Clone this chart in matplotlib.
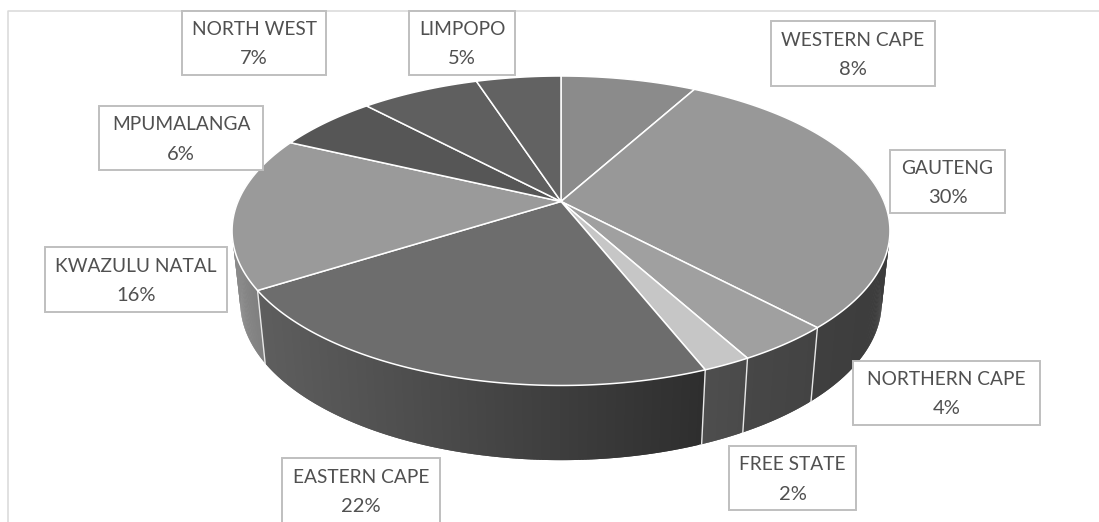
import numpy as np
import matplotlib
matplotlib.use('Agg')
import matplotlib.pyplot as plt
from matplotlib.patches import Rectangle
from matplotlib.colors import to_rgb

# Data, clockwise from 12 o'clock
provinces = ['WESTERN CAPE', 'GAUTENG', 'NORTHERN CAPE', 'FREE STATE', 'EASTERN CAPE',
             'KWAZULU NATAL', 'MPUMALANGA', 'NORTH WEST', 'LIMPOPO']
shares = [8, 30, 4, 2, 22, 16, 6, 7, 5]

top_colors = ['#8b8b8b', '#989898', '#a0a0a0', '#c6c6c6', '#6d6d6d',
              '#9a9a9a', '#565656', '#5f5f5f', '#626262']
# side wall colours, (left end, right end) of each slice
side_colors = [('#444444', '#444444'), ('#454545', '#3c3c3c'), ('#474747', '#434343'),
               ('#4e4e4e', '#4a4a4a'), ('#5e5e5e', '#2e2e2e'), ('#8a8a8a', '#727272'),
               ('#707070', '#707070'), ('#707070', '#707070'), ('#707070', '#707070')]

# label box extents in pixels: left, right, top, bottom
label_boxes = [(771, 935, 21, 86), (890, 1005, 150, 213), (853, 1040, 361, 425),
               (729, 856, 446, 510), (282, 440, 458, 524), (45, 227, 247, 312),
               (99, 263, 106, 170), (182, 326, 11, 75), (409, 515, 11, 75)]

# perspective of the pie
hub_x, hub_y = 561, 201.5
a, b, k = 323, 149.2, 0.189
scale_x, scale_y, drop = 0.975, 1.02, 71


def top_point(theta):
    u, v = np.sin(theta), np.cos(theta)
    w = 1 + k * v
    return hub_x + a * u / w, hub_y - b * v / w


def bottom_point(theta):
    x, y = top_point(theta)
    return hub_x + (x - hub_x) * scale_x, hub_y + drop + (y - hub_y) * scale_y


fig = plt.figure(figsize=(10.99, 5.22), dpi=100)
ax = fig.add_axes([0, 0, 1, 1])
ax.set_xlim(0, 1099)
ax.set_ylim(522, 0)
ax.axis('off')

# chart frame
ax.plot([8, 8, 1099], [522, 10.5, 10.5], color='#d9d9d9', lw=1.1, zorder=1)

edges = np.cumsum([0] + shares) / sum(shares) * 2 * np.pi

# side walls first, the top covers what is behind
for i in range(len(shares)):
    thetas = np.linspace(edges[i], edges[i + 1], max(4, shares[i] * 8))
    xs, ys = top_point(thetas)
    xb, yb = bottom_point(thetas)
    left, right = min(xb), max(xb)
    c0, c1 = np.array(to_rgb(side_colors[i][0])), np.array(to_rgb(side_colors[i][1]))
    for j in range(len(thetas) - 1):
        if np.cos(thetas[j]) > 0.25 and np.cos(thetas[j + 1]) > 0.25:
            continue
        t = ((xb[j] + xb[j + 1]) / 2 - left) / max(right - left, 1)
        col = c0 + (c1 - c0) * t
        # each strip runs under the next one so no seams show
        n = min(j + 2, len(thetas) - 1)
        ax.fill([xs[j], xs[j + 1], xs[n], xb[n], xb[j + 1], xb[j]],
                [ys[j], ys[j + 1], ys[n], yb[n], yb[j + 1], yb[j]],
                facecolor=col, edgecolor='none', zorder=2)

# dividers on the side wall
for e in edges[2:6]:
    x0, y0 = top_point(e)
    x1, y1 = bottom_point(e)
    ax.plot([x0, x1], [y0, y1], color='#e8e8e8', lw=1.0, zorder=3)

# top of the pie
for i in range(len(shares)):
    thetas = np.linspace(edges[i], edges[i + 1], max(4, shares[i] * 8))
    xs, ys = top_point(thetas)
    ax.fill(np.r_[hub_x, xs], np.r_[hub_y, ys], facecolor=top_colors[i],
            edgecolor='white', lw=1.1, joinstyle='round', zorder=4)

# labels
for name, share, (x0, x1, y0, y1) in zip(provinces, shares, label_boxes):
    ax.add_patch(Rectangle((x0, y0), x1 - x0, y1 - y0, facecolor='white',
                           edgecolor='#bfbfbf', lw=1.4, zorder=5))
    xc, yc = (x0 + x1) / 2, (y0 + y1) / 2
    ax.text(xc, yc - 13.5, name, ha='center', va='center', family='Lato',
            fontsize=13.8, color='#505050', zorder=6)
    ax.text(xc, yc + 16, f'{share}%', ha='center', va='center', family='Lato',
            fontsize=14.5, color='#505050', zorder=6)

fig.savefig('out.png', dpi=100)
